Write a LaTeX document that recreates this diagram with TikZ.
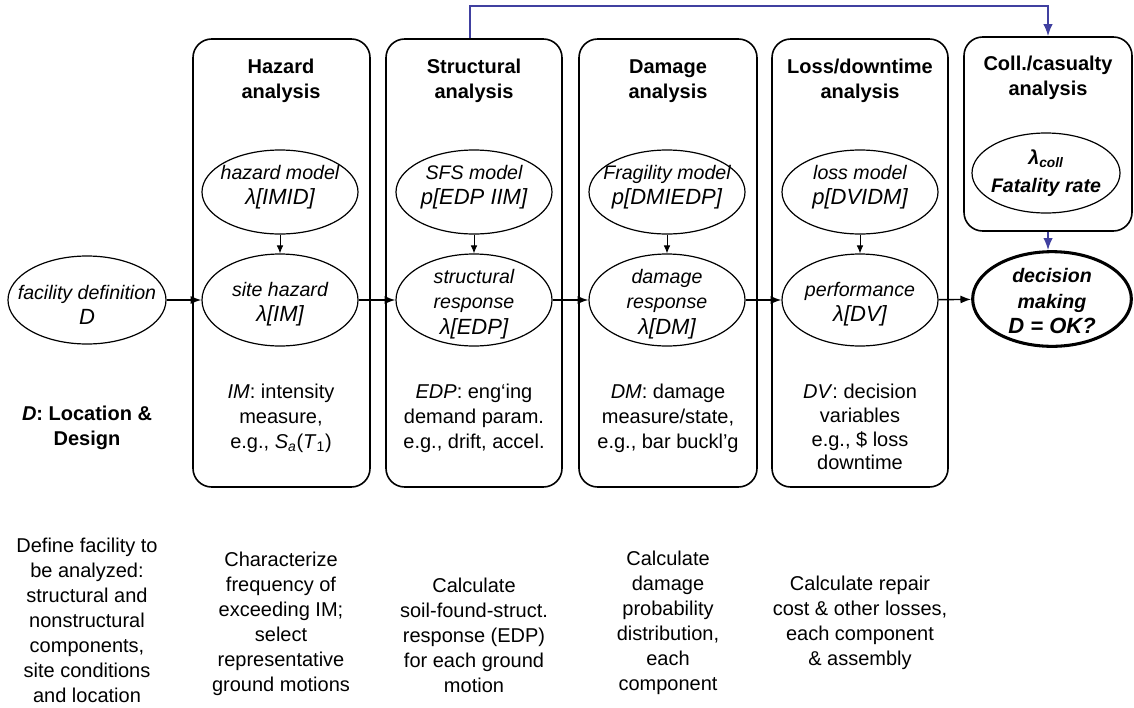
\documentclass[tikz,border=0pt]{standalone}
\usepackage{fontspec}
\setmainfont{Liberation Sans}
\usetikzlibrary{shapes.geometric,arrows.meta}
\definecolor{fbblue}{RGB}{64,64,160}
\newcommand{\biglam}[1]{{\fontsize{16.5}{19}\selectfont #1}}
\begin{document}
\begin{tikzpicture}[x=0.75pt,y=-0.75pt,
  panel/.style={draw, line width=1.2pt, rounded corners=14pt, inner sep=0pt, rectangle},
  ell/.style={draw, ellipse, line width=0.9pt, inner sep=0pt},
  etext/.style={align=center, font=\fontsize{14.7}{19}\selectfont\itshape, inner sep=0pt},
  ttl/.style={align=center, font=\fontsize{15}{18.75}\selectfont\bfseries, inner sep=0pt},
  body/.style={align=center, font=\fontsize{15}{18.75}\selectfont, inner sep=0pt},
  flow/.style={-{Latex[length=8pt,width=6pt]}, line width=1.1pt},
  down/.style={-{Latex[length=6pt,width=5pt]}, line width=0.7pt},
  bluearrow/.style={draw=fbblue, -{Latex[length=9pt,width=7pt]}, line width=1.2pt}
]
\useasboundingbox (0,0) rectangle (1134,707);
% panels
\node[panel, minimum width=132.75pt, minimum height=336pt] (hz) at (281.5,263) {};
\node[panel, minimum width=132pt, minimum height=336pt] (st) at (474,263) {};
\node[panel, minimum width=133.5pt, minimum height=336pt] (dm) at (668,263) {};
\node[panel, minimum width=132pt, minimum height=336pt] (ls) at (860,263) {};
\node[panel, minimum width=126pt, minimum height=145.5pt] (cl) at (1048,134) {};
% titles
\node[ttl] (thz) at (281,81) {Hazard\\analysis};
\node[ttl] (tst) at (474,81) {Structural\\analysis};
\node[ttl] (tdm) at (668,81) {Damage\\analysis};
\node[ttl] (tls) at (860,81) {Loss/downtime\\analysis};
\node[ttl] (tcl) at (1048,78) {Coll./casualty\\analysis};
% top ellipses
\node[ell, minimum width=117pt, minimum height=63pt] (hm) at (280,192) {};
\node[ell, minimum width=117pt, minimum height=63pt] (sm) at (474,192) {};
\node[ell, minimum width=117pt, minimum height=63pt] (fm) at (667,192) {};
\node[ell, minimum width=117pt, minimum height=63pt] (lm) at (860,192) {};
\node[etext] (thm) at (280,187) {hazard model\\\biglam{λ[IMID]}};
\node[etext] (tsm) at (474,187) {SFS model\\\biglam{p[EDP IIM]}};
\node[etext] (tfm) at (667,187) {Fragility model\\\biglam{p[DMIEDP]}};
\node[etext] (tlm) at (860,187) {loss model\\\biglam{p[DVIDM]}};
% main row
\node[ell, minimum width=118.5pt, minimum height=66pt] (fac) at (87,300) {};
\node[ell, minimum width=117pt, minimum height=69pt] (site) at (280,300) {};
\node[ell, minimum width=117pt, minimum height=69pt] (sr) at (474,300) {};
\node[ell, minimum width=117pt, minimum height=69pt] (dr) at (667,300) {};
\node[ell, minimum width=117pt, minimum height=69pt] (pf) at (860,300) {};
\node[ell, line width=2.3pt, minimum width=119pt, minimum height=71pt] (dec) at (1052,299) {};
\node[etext] (tfac) at (87,305) {facility definition\\\biglam{D}};
\node[etext] (tsite) at (280,304) {site hazard\\\biglam{λ[IM]}};
\node[etext] (tsr) at (474,304) {structural\\response\\\biglam{λ[EDP]}};
\node[etext] (tdr) at (667,304) {damage\\response\\\biglam{λ[DM]}};
\node[etext] (tpf) at (860,304) {performance\\\biglam{λ[DV]}};
\node[etext, font=\fontsize{14.7}{19}\selectfont\bfseries\itshape] (tdec) at (1052,301) {decision\\making\\\biglam{D = OK?}};
% collapse ellipse
\node[ell, minimum width=111pt, minimum height=60pt] (ce) at (1046,173) {};
\node[etext, font=\fontsize{14.7}{21}\selectfont\bfseries\itshape] (tce) at (ce) {λ\textsubscript{coll}\\Fatality rate};
% connectors
\draw[flow] (fac) -- (site);
\draw[flow] (site) -- (sr);
\draw[flow] (sr) -- (dr);
\draw[flow] (dr) -- (pf);
\draw[flow] (pf) -- (dec);
\draw[down] (hm) -- (site);
\draw[down] (sm) -- (sr);
\draw[down] (fm) -- (dr);
\draw[down] (lm) -- (pf);
\draw[bluearrow] ([xshift=-3pt]st.north) -- ++(0,-32) -| (cl.north);
\draw[bluearrow] (cl.south) -- (cl.south |- dec.north);
% panel texts
\node[body, font=\fontsize{15}{18.75}\selectfont\bfseries] (tloc) at (87,428) {\textit{D}: Location \&\\Design};
\node[body] (bhz) at (281,418) {\textit{IM}: intensity\\measure,\\e.g., \textit{S}\textsubscript{\textit{a}}(\textit{T}\textsubscript{1})};
\node[body] (bst) at (474,418) {\textit{EDP}: eng‘ing\\demand param.\\e.g., drift, accel.};
\node[body] (bdm) at (668,418) {\textit{DM}: damage\\measure/state,\\e.g., bar buckl'g};
\node[body, font=\fontsize{15}{17.8}\selectfont] (bls) at (860,427) {\textit{DV}: decision\\variables\\e.g., \$ loss\\downtime};
% bottom descriptions
\node[body] (d1) at (87,620) {Define facility to\\be analyzed:\\structural and\\nonstructural\\components,\\site conditions\\and location};
\node[body] (d2) at (281,624) {Characterize\\frequency of\\exceeding IM;\\select\\representative\\ground motions};
\node[body] (d3) at (474,635) {Calculate\\soil-found-struct.\\response (EDP)\\for each ground\\motion};
\node[body] (d4) at (668,623) {Calculate\\damage\\probability\\distribution,\\each\\component};
\node[body] (d5) at (860,623) {Calculate repair\\cost \& other losses,\\each component\\\& assembly};
\end{tikzpicture}
\end{document}
